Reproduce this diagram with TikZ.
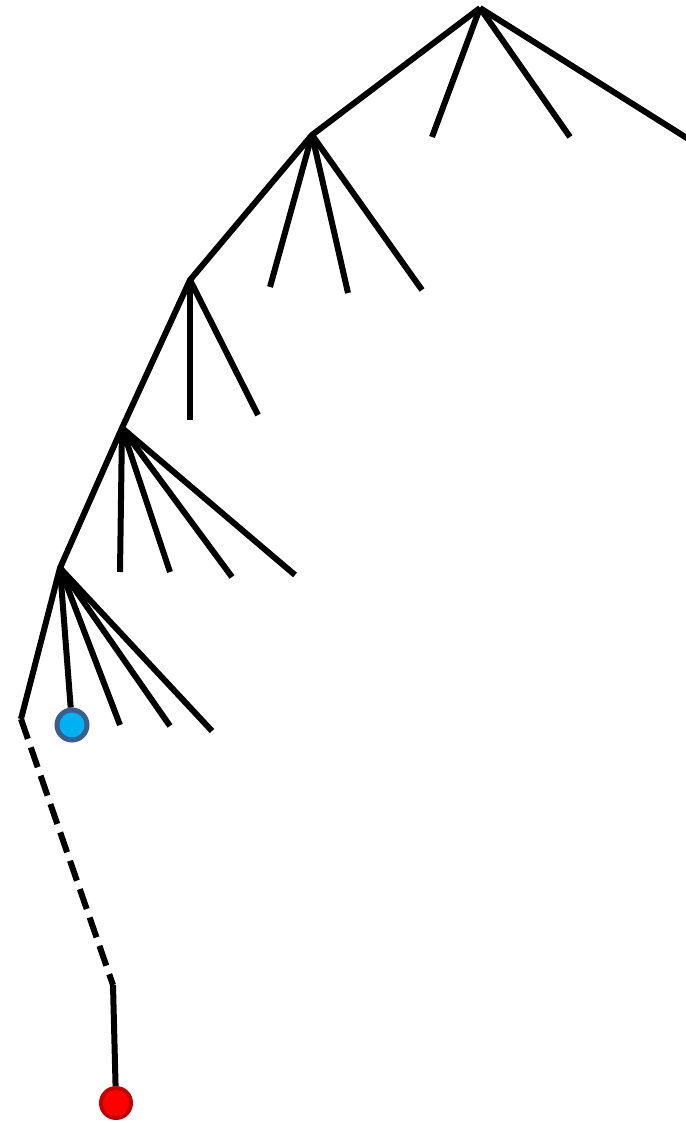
\documentclass[tikz,border=0pt]{standalone}
\definecolor{tipblue}{HTML}{00B0F0}
\definecolor{tiprim}{HTML}{3A5F8F}
\definecolor{seedred}{HTML}{FF0000}
\definecolor{seedrim}{HTML}{C00000}
\usetikzlibrary{positioning}

\begin{document}
\begin{tikzpicture}[x=1pt,y=-1pt,
    branch/.style={line width=6pt},
    stalk/.style={line width=6pt,dash pattern=on 21pt off 9pt},
    tipdot/.style={circle,draw=tiprim,fill=tipblue,line width=5pt,minimum size=30pt,inner sep=0pt},
    seeddot/.style={circle,draw=seedrim,fill=seedred,line width=4pt,minimum size=30pt,inner sep=0pt}]
    \useasboundingbox (0,0) rectangle (685,1123);
    % spine
    \coordinate (n0) at (480,8);
    \coordinate (n1) at (312,135);
    \coordinate (n2) at (190,280);
    \coordinate (n3) at (122,428);
    \coordinate (n4) at (60,568);
    \coordinate (n5) at (21,719);
    \coordinate (n6) at (113,985);
    \node[seeddot] (seed) at (116,1103) {};
    \node[tipdot] (tip) at (72,725) {};
    \draw[branch] (n0) -- (n1) -- (n2) -- (n3) -- (n4) -- (n5);
    \draw[stalk] (n5) -- (n6);
    \draw[branch] (n6) -- (seed);
    % twigs
    \draw[branch] (n0) -- (432,137);
    \draw[branch] (n0) -- (570,137);
    \draw[branch] (n0) -- (690,140);
    \draw[branch] (n1) -- (270,287);
    \draw[branch] (n1) -- (348,293);
    \draw[branch] (n1) -- (422,290);
    \draw[branch] (n2) -- (190,420);
    \draw[branch] (n2) -- (258,415);
    \draw[branch] (n3) -- (120,572);
    \draw[branch] (n3) -- (170,572);
    \draw[branch] (n3) -- (232,577);
    \draw[branch] (n3) -- (295,575);
    \draw[branch] (n4) -- (tip);
    \draw[branch] (n4) -- (120,725);
    \draw[branch] (n4) -- (170,726);
    \draw[branch] (n4) -- (212,731);
\end{tikzpicture}
\end{document}
